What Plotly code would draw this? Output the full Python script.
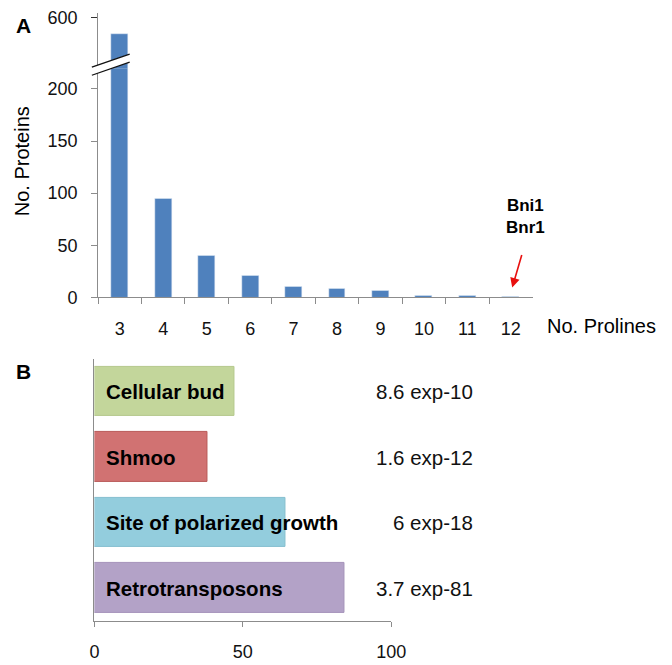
import plotly.graph_objects as go

# ---------------- data ----------------
prolines = ["3", "4", "5", "6", "7", "8", "9", "10", "11", "12"]
n_proteins = [560, 95, 40, 21, 10, 8, 6, 2, 2, 1]
lower_ticks = [0, 50, 100, 150, 200]
upper_ticks = [600]

terms = ["Cellular bud", "Shmoo", "Site of polarized growth", "Retrotransposons"]
term_values = [47.3, 38.2, 64.3, 84.2]
term_pvalues = ["8.6 exp-10", "1.6 exp-12", "6 exp-18", "3.7 exp-81"]
term_colors = ["#C3D69B", "#D17272", "#93CDDD", "#B3A2C7"]
term_edges = ["#B5C98C", "#B95A58", "#86BFCF", "#A593BA"]
bottom_ticks = [0, 50, 100]

# page body has an 8px margin: figure sits at (8, 8) inside the 672x665 window
OX, OY = 8, 8
W, H = 672 - OX, 665 - OY
FONT = "Liberation Sans, Arial, sans-serif"
AX = "#8C8C8C"
BLUE = "#4F81BD"


def px(x):
    return (x - OX) / W


def py(y):
    return 1 - (y - OY) / H


fig = go.Figure()

# top chart: lower and upper segments of the broken axis
fig.add_trace(go.Bar(x=prolines, y=n_proteins, marker_color=BLUE, width=0.39,
                     xaxis="x", yaxis="y", showlegend=False))
fig.add_trace(go.Bar(x=prolines, y=n_proteins, marker_color=BLUE, width=0.39,
                     xaxis="x", yaxis="y2", showlegend=False))

# bottom chart
fig.add_trace(go.Bar(y=terms, x=term_values, orientation="h", width=0.755,
                     marker=dict(color=term_colors, line=dict(color=term_edges, width=1)),
                     xaxis="x3", yaxis="y3", showlegend=False))

break_y = 65
top_y = 8
tick600_y = 13
bar3_top_y = 29
lower_top = (299 - break_y) * 200 / 213.3
upper_scale = (600 - n_proteins[0]) / (bar3_top_y - tick600_y)
upper_lo = 600 - (break_y - tick600_y) * upper_scale
upper_hi = 600 + (tick600_y - top_y) * upper_scale

axis_common = dict(showgrid=False, zeroline=False, showline=True, linecolor=AX,
                   linewidth=1, ticks="outside", tickcolor=AX, tickwidth=1,
                   tickfont=dict(family=FONT, size=18, color="#111"))

fig.update_layout(
    width=W, height=H,
    margin=dict(l=0, r=0, t=0, b=0),
    paper_bgcolor="white", plot_bgcolor="rgba(0,0,0,0)",
    font=dict(family=FONT, color="#000"),
    bargap=0,
    xaxis=dict(axis_common, domain=[px(95.7), px(543.7)], anchor="y", type="category",
               categoryorder="array", categoryarray=prolines, range=[-0.5, 9.5],
               tickson="boundaries", ticklen=6, ticklabelstandoff=15),
    yaxis=dict(axis_common, domain=[py(299), py(break_y)], anchor="x",
               range=[0, lower_top], tickvals=lower_ticks, ticklen=6,
               ticklabelstandoff=10),
    yaxis2=dict(axis_common, domain=[py(break_y), py(top_y)], anchor="x",
                range=[upper_lo, upper_hi], tickvals=upper_ticks, ticklen=6,
                ticklabelstandoff=10, tickcolor="#333", ticklabeloverflow="allow"),
    xaxis3=dict(axis_common, domain=[px(92), px(398)], anchor="y3",
                range=[0, 100], tickvals=bottom_ticks, ticklen=5,
                ticklabelstandoff=10),
    yaxis3=dict(showgrid=False, zeroline=False, showline=True, linecolor=AX,
                linewidth=1, domain=[py(630), py(362)], anchor="x3",
                type="category", categoryorder="array", categoryarray=terms,
                range=[3.5, -0.5], showticklabels=False, ticks=""),
)

# axis break symbol
x0, x1 = 89.3, 128.3
poly = (f"M {px(x0)} {py(63.3)} L {px(x1)} {py(50)} L {px(x1)} {py(58.3)} "
        f"L {px(x0)} {py(71.7)} Z")
fig.add_shape(type="path", path=poly, xref="paper", yref="paper",
              fillcolor="white", line=dict(width=0), layer="above")
for ya, yb in [(63.3, 50), (71.7, 58.3)]:
    fig.add_shape(type="line", xref="paper", yref="paper",
                  x0=px(x0), y0=py(ya), x1=px(x1), y1=py(yb),
                  line=dict(color="#111", width=1.3), layer="above")

ann = []
ann.append(dict(text="<b>A</b>", x=px(9), y=py(21), xref="paper", yref="paper",
                xanchor="left", yanchor="middle", showarrow=False,
                font=dict(family=FONT, size=21, color="#000")))
ann.append(dict(text="<b>B</b>", x=px(9), y=py(375), xref="paper", yref="paper",
                xanchor="left", yanchor="middle", showarrow=False,
                font=dict(family=FONT, size=21, color="#000")))
ann.append(dict(text="No. Proteins", x=px(17), y=py(160), xref="paper", yref="paper",
                xanchor="center", yanchor="middle", textangle=-90, showarrow=False,
                font=dict(family=FONT, size=20, color="#000")))
ann.append(dict(text="No. Prolines", x=px(557), y=py(328), xref="paper", yref="paper",
                xanchor="left", yanchor="middle", showarrow=False,
                font=dict(family=FONT, size=20, color="#000")))
ann.append(dict(text="<b>Bni1</b><br><b>Bnr1</b>", x=px(536), y=py(216.5),
                xref="paper", yref="paper", xanchor="center", yanchor="middle",
                showarrow=False, font=dict(family=FONT, size=17, color="#000")))
ann.append(dict(text="", x=px(522.7), y=py(289), xref="paper", yref="paper",
                showarrow=True, ax=10, ay=-34, arrowcolor="#E8100F",
                arrowwidth=1.6, arrowhead=2, arrowsize=1.2))

for t, p in zip(terms, term_pvalues):
    ann.append(dict(text=f"<b>{t}</b>", x=0, y=t, xref="x3", yref="y3",
                    xanchor="left", yanchor="middle", xshift=10, showarrow=False,
                    font=dict(family=FONT, size=20.5, color="#000")))
    ann.append(dict(text=p, x=px(484), y=t, xref="paper", yref="y3",
                    xanchor="right", yanchor="middle", showarrow=False,
                    font=dict(family=FONT, size=20.5, color="#111")))

fig.update_layout(annotations=ann)

fig.write_html("out.html")
